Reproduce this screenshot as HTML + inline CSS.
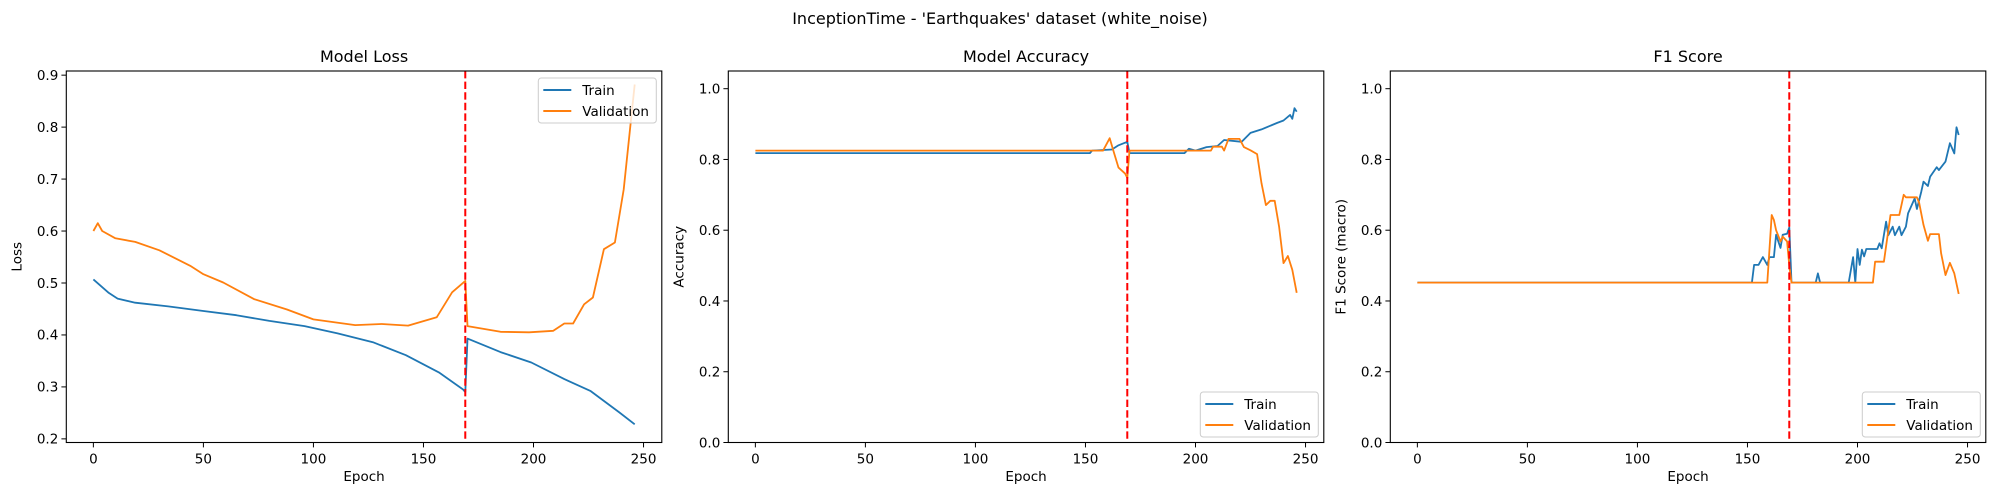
<!DOCTYPE html>
<html><head><meta charset="utf-8"><style>
html,body{margin:0;padding:0;background:#fff;}
svg{display:block;font-family:"DejaVu Sans","Liberation Sans",sans-serif;}
</style></head><body>
<svg id="fig" width="2000" height="500" viewBox="0 0 2000 500">
<text x="1000" y="24" text-anchor="middle" font-size="16" fill="#000">InceptionTime - 'Earthquakes' dataset (white_noise)</text>
</svg>
<script>
// ---- data (epoch breakpoints and values) ----
const lossTrainE=[0,7,11,19,34,50,65,80,96,111,127,142,157,168,169,170,185,199,214,226,239,246];
const lossTrainV=[0.507,0.481,0.47,0.462,0.455,0.446,0.438,0.427,0.417,0.403,0.386,0.361,0.328,0.295,0.29,0.393,0.367,0.347,0.315,0.292,0.251,0.228];
const lossValE=[0,2,4,10,19,30,44,50,59,73,88,100,119,131,143,156,163,169,170,185,198,209,214,218,223,227,232,237,241,246];
const lossValV=[0.60,0.615,0.60,0.586,0.579,0.563,0.533,0.517,0.501,0.469,0.449,0.43,0.419,0.421,0.418,0.434,0.482,0.504,0.417,0.406,0.405,0.408,0.422,0.422,0.459,0.472,0.565,0.578,0.68,0.882];
const accTrainE=[0,152,153,162,165,169,170,195,197,200,205,210,213,221,225,230,237,240,243,244,245,246];
const accTrainV=[0.818,0.818,0.825,0.828,0.84,0.85,0.818,0.818,0.83,0.825,0.835,0.838,0.855,0.85,0.875,0.885,0.903,0.91,0.926,0.915,0.945,0.935];
const accValE=[0,158,161,163,165,168,169,170,207,208,212,213,215,220,222,225,228,230,232,234,236,238,240,242,244,246];
const accValV=[0.825,0.825,0.86,0.818,0.777,0.76,0.748,0.825,0.825,0.836,0.836,0.825,0.858,0.858,0.835,0.826,0.815,0.733,0.671,0.683,0.683,0.61,0.507,0.527,0.488,0.423];
const f1TrainE=[0,152,153,155,157,159,160,162,163,165,166,168,169,170,181,182,183,196,198,199,200,201,202,203,204,206,209,210,211,213,214,216,217,219,220,222,223,226,227,229,230,232,233,236,237,240,242,244,245,246];
const f1TrainV=[0.452,0.452,0.502,0.502,0.524,0.502,0.524,0.524,0.587,0.55,0.587,0.59,0.608,0.452,0.452,0.478,0.452,0.452,0.524,0.452,0.547,0.502,0.545,0.526,0.547,0.547,0.547,0.563,0.549,0.624,0.586,0.61,0.586,0.61,0.586,0.61,0.648,0.69,0.66,0.709,0.737,0.725,0.751,0.778,0.77,0.794,0.846,0.817,0.891,0.869];
const f1ValE=[0,159,161,162,163,165,166,168,169,170,207,208,212,215,219,221,222,227,228,230,232,233,237,238,240,242,244,246];
const f1ValV=[0.452,0.452,0.643,0.629,0.6,0.568,0.582,0.568,0.5,0.452,0.452,0.511,0.511,0.643,0.643,0.7,0.693,0.693,0.678,0.615,0.57,0.589,0.589,0.535,0.473,0.508,0.478,0.42];
const lossTicks=[0.2,0.3,0.4,0.5,0.6,0.7,0.8,0.9];
const unitTicks=[0.0,0.2,0.4,0.6,0.8,1.0];
const epochTicks=[0,50,100,150,200,250];
const splitEpoch=169;
const xMin=-12.3, xMax=258.3;

const NS='http://www.w3.org/2000/svg';
const fig=document.getElementById('fig');
const TOP=71, BOT=442.5, W=595.5;
function mk(tag,attrs,parent){const e=document.createElementNS(NS,tag);for(const k in attrs)e.setAttribute(k,attrs[k]);(parent||fig).appendChild(e);return e;}

function panel(key,left,title,ylabel,yMin,yMax,yTicks,dec,tE,tV,vE,vV,legendTop){
  const g=mk('g',{});
  
  
  const sx=e=>left+(e-xMin)/(xMax-xMin)*W;
  const sy=v=>BOT-(v-yMin)/(yMax-yMin)*(BOT-TOP);
  const t=mk('text',{x:left+W/2,y:62,'text-anchor':'middle','font-size':16},g);t.textContent=title;
  
  
  yTicks.forEach(v=>{const y=sy(v);
    mk('line',{x1:left-4.9,x2:left,y1:y,y2:y,stroke:'#000','stroke-width':1},g);
    const l=mk('text',{x:left-8,y:y+4.8,'text-anchor':'end','font-size':13.5},g);l.textContent=v.toFixed(dec);
    
    
  });
  epochTicks.forEach(v=>{const x=sx(v);
    mk('line',{x1:x,x2:x,y1:BOT,y2:BOT+4.9,stroke:'#000','stroke-width':1},g);
    const l=mk('text',{x:x,y:BOT+21,'text-anchor':'middle','font-size':13.5},g);l.textContent=v;
    
    
  });
  const xl=mk('text',{x:left+W/2,y:481,'text-anchor':'middle','font-size':13.5},g);xl.textContent='Epoch';
  
  
  const yx=left-45, yy=(TOP+BOT)/2;
  const yl=mk('text',{x:yx,y:yy,'text-anchor':'middle','font-size':13.5,transform:`rotate(-90 ${yx} ${yy})`},g);yl.textContent=ylabel;
  
  
  const pts=(E,V)=>E.map((e,i)=>sx(e).toFixed(1)+','+sy(V[i]).toFixed(1)).join(' ');
  const lt=mk('polyline',{points:pts(tE,tV),fill:'none',stroke:'#1f77b4','stroke-width':1.8,'stroke-linejoin':'round'},g);
  
  
  const lv=mk('polyline',{points:pts(vE,vV),fill:'none',stroke:'#ff7f0e','stroke-width':1.8,'stroke-linejoin':'round'},g);
  
  
  const vl=mk('line',{x1:sx(splitEpoch),x2:sx(splitEpoch),y1:TOP,y2:BOT,stroke:'#ff0000','stroke-width':2,'stroke-dasharray':'7.4,3.2'},g);
  
  
  const fr=mk('rect',{x:left,y:TOP,width:W,height:BOT-TOP,fill:'none',stroke:'#000','stroke-width':1.1},g);
  
  
  // legend
  const lw=118, lh=45, lx=left+W-5.5-lw, ly=legendTop?TOP+7:BOT-5.5-lh;
  const lg=mk('g',{},g);
  
  
  mk('rect',{x:lx,y:ly,width:lw,height:lh,rx:3,fill:'#fff','fill-opacity':0.8,stroke:'#ccc','stroke-width':1},lg);
  [['Train','#1f77b4',ly+12],['Validation','#ff7f0e',ly+33]].forEach(([n,c,y])=>{
    const e=mk('g',{},lg);
    
    
    mk('line',{x1:lx+5,x2:lx+33,y1:y,y2:y,stroke:c,'stroke-width':2},e);
    const tx=mk('text',{x:lx+44,y:y+5,'font-size':13.5},e);tx.textContent=n;
  });
}
panel('loss',66.3,'Model Loss','Loss',0.193,0.908,lossTicks,1,lossTrainE,lossTrainV,lossValE,lossValV,true);
panel('accuracy',728.3,'Model Accuracy','Accuracy',0,1.05,unitTicks,1,accTrainE,accTrainV,accValE,accValV,false);
panel('f1',1390.3,'F1 Score','F1 Score (macro)',0,1.05,unitTicks,1,f1TrainE,f1TrainV,f1ValE,f1ValV,false);
</script>
</body></html>
